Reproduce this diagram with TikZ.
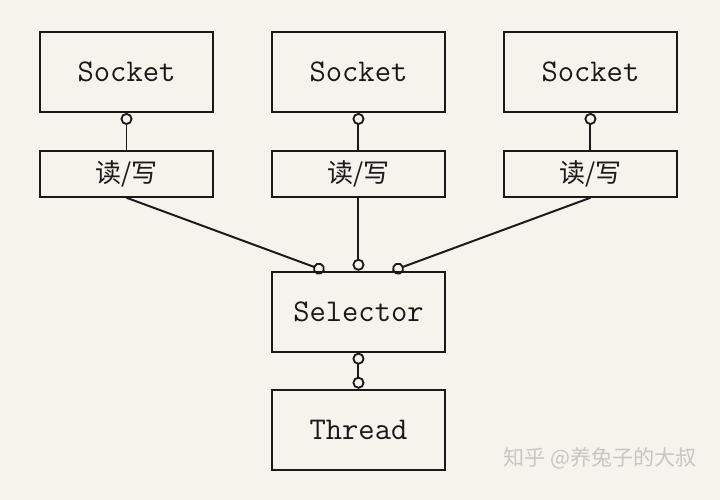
\documentclass[tikz,border=0pt]{standalone}
\usepackage{fontspec}
\usepackage{tikz}
\usetikzlibrary{arrows.meta, positioning, calc}
\newfontfamily\cjk{Noto Sans CJK SC}
\definecolor{paper}{RGB}{246,243,236}
\definecolor{ink}{RGB}{25,25,25}
\definecolor{mark}{RGB}{200,198,193}

\begin{document}
\begin{tikzpicture}[>=Stealth, node distance=0.92cm and 1.425cm,
    box/.style={draw=ink, line width=1.4pt, minimum width=4.325cm, minimum height=2cm,
                inner sep=0pt, font=\ttfamily\fontsize{22.5}{26}\selectfont, text=ink},
    rwbox/.style={box, minimum height=1.15cm, font=\cjk\fontsize{18.5}{20}\selectfont},
    link/.style={draw=ink, line width=1.4pt},
    ring/.tip={Circle[open, length=8.5pt, width=8.5pt, line width=1.3pt]}]
  \fill[paper] (0,0) rectangle (18,12.5);
  \useasboundingbox (0,0) rectangle (18,12.5);

  \node[box] (sock1) at (3.1625,10.7) {Socket};
  \node[box, right=of sock1] (sock2) {Socket};
  \node[box, right=of sock2] (sock3) {Socket};
  \node[rwbox, below=of sock1] (rw1) {读/写};
  \node[rwbox, below=of sock2] (rw2) {读/写};
  \node[rwbox, below=of sock3] (rw3) {读/写};
  \node[box, below=1.825cm of rw2] (sel) {Selector};
  \node[box, below=0.9cm of sel] (thread) {Thread};

  \coordinate (selL) at ($(sel.north)+(-0.85,0)$);
  \coordinate (selR) at ($(sel.north)+(0.85,0)$);

  \foreach \i in {1,2,3}
    \draw[link, ring-] (sock\i.south) -- (rw\i.north);
  \draw[link, -ring] (rw1.south) -- (selL);
  \draw[link, -ring] (rw2.south) -- (sel.north);
  \draw[link, -ring] (rw3.south) -- (selR);
  \draw[link, ring-ring] (sel.south) -- (thread.north);

  \node[font=\cjk\fontsize{15}{17}\selectfont, text=mark, anchor=east] (mk) at (17.55,1.05) {知乎 @养兔子的大叔};
\end{tikzpicture}
\end{document}
